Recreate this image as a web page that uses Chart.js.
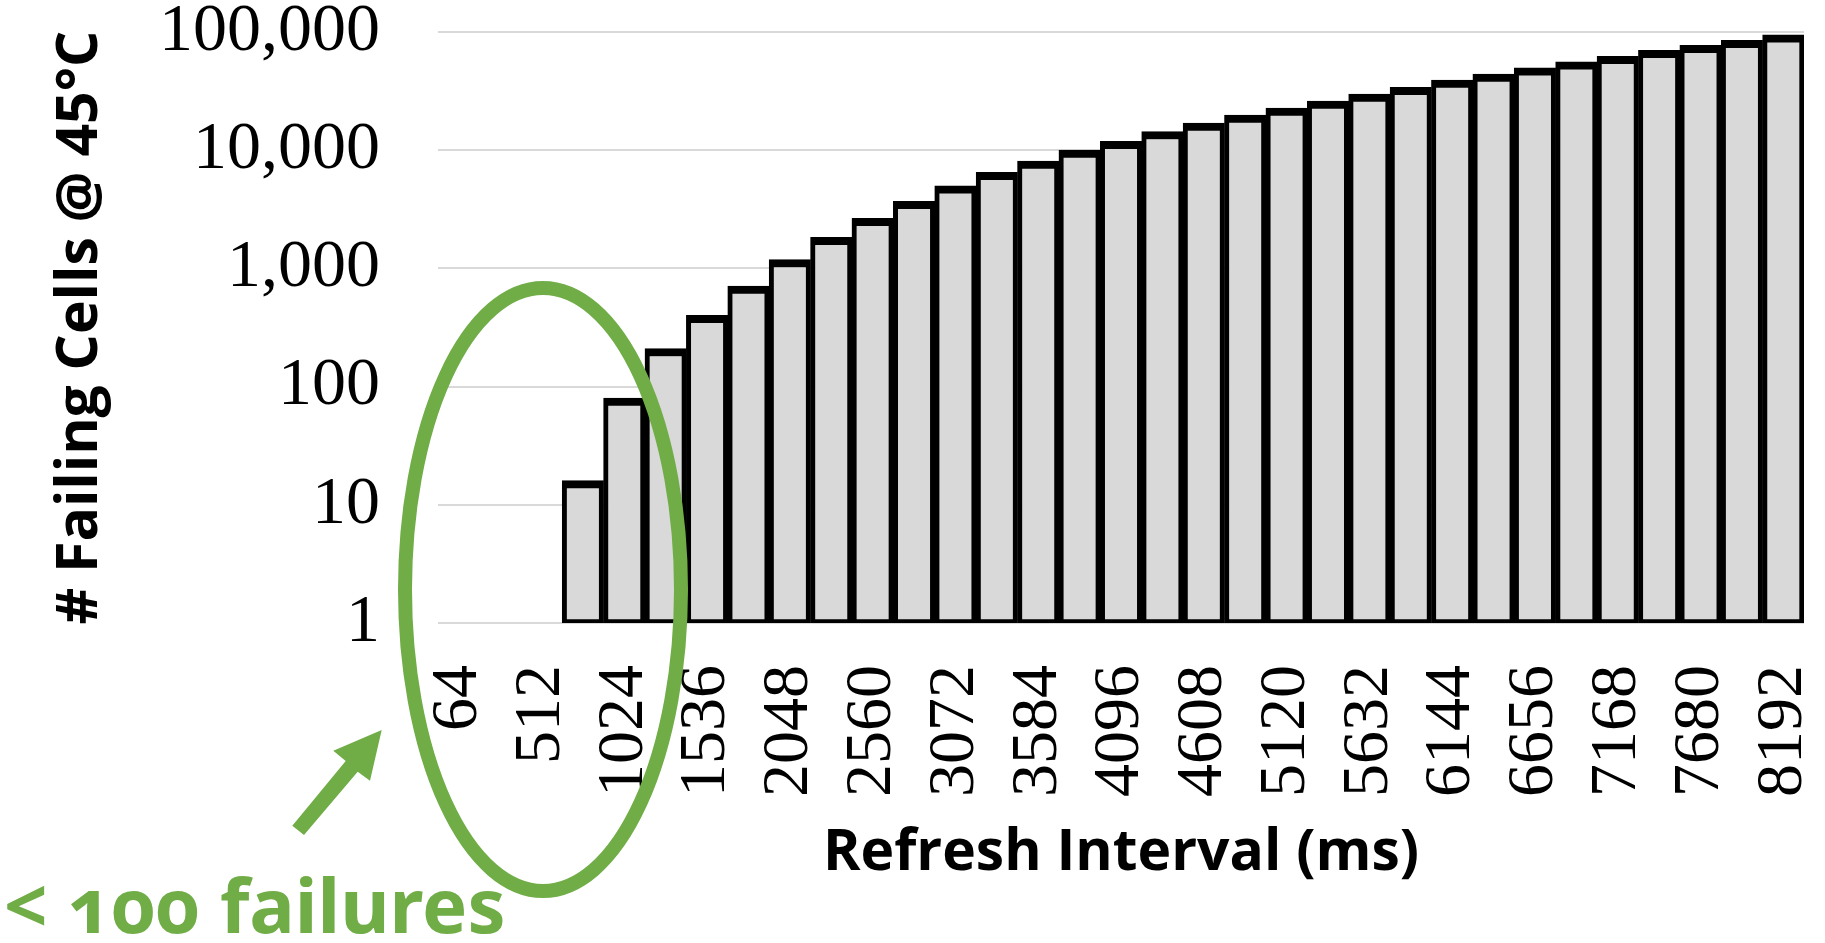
<!DOCTYPE html>
<html>
<head>
<meta charset="utf-8">
<title>Failing cells vs refresh interval</title>
<script src="https://cdn.jsdelivr.net/npm/chart.js@4.4.1/dist/chart.umd.min.js"></script>
<style>
  html, body { margin: 0; padding: 0; background: #fff; }
  #wrap { position: relative; width: 1825px; height: 943px; }
  #note {
    position: absolute; left: 4px; top: 866px;
    font: bold 76px/1 "Noto Sans", sans-serif; color: #70ad47; white-space: nowrap;
    font-feature-settings: "onum" 1; font-variant-numeric: oldstyle-nums;
  }
</style>
</head>
<body>
<div id="wrap">
  <canvas id="chart" width="1825" height="943"></canvas>
  <div id="note">&lt; 100 failures</div>
</div>
<script>
// refresh intervals (ms), one bar each
const refreshIntervals = [
  64, 256, 512, 768, 1024, 1280, 1536, 1792, 2048, 2304, 2560, 2816, 3072,
  3328, 3584, 3840, 4096, 4352, 4608, 4864, 5120, 5376, 5632, 5888, 6144,
  6400, 6656, 6912, 7168, 7424, 7680, 7936, 8192
];

// number of failing cells at 45°C (no failures below 768 ms)
const failingCells = [
  null, null, null, 16, 80, 210, 400, 710, 1190, 1830, 2650, 3700, 5000,
  6500, 8100, 10000, 11900, 14400, 17000, 19800, 22700, 26000, 29800, 34100, 39100,
  44000, 49700, 55800, 62400, 70000, 77000, 85000, 94500
];

const yTicks = [1, 10, 100, 1000, 10000, 100000];

const green = '#70ad47';

// green ellipse + arrow around the "< 100 failures" region
const calloutPlugin = {
  id: 'callout',
  afterDraw(chart) {
    const ctx = chart.ctx;
    ctx.save();
    ctx.strokeStyle = green;
    ctx.lineWidth = 14;
    ctx.beginPath();
    ctx.ellipse(543, 589.5, 138, 301.5, 0, 0, Math.PI * 2);
    ctx.stroke();

    ctx.fillStyle = green;
    ctx.beginPath();
    ctx.moveTo(381.7, 730);
    ctx.lineTo(370, 780.7);
    ctx.lineTo(357.7, 771.7);
    ctx.lineTo(304, 835);
    ctx.lineTo(292.3, 825.7);
    ctx.lineTo(345.7, 761);
    ctx.lineTo(333.3, 750.7);
    ctx.closePath();
    ctx.fill();
    ctx.restore();
  }
};

const ctx = document.getElementById('chart').getContext('2d');

new Chart(ctx, {
  type: 'bar',
  data: {
    labels: refreshIntervals,
    datasets: [{
      data: failingCells,
      backgroundColor: '#d9d9d9',
      borderColor: '#000',
      borderWidth: { top: 8, right: 5, bottom: 4, left: 5 },
      borderSkipped: false,
      barPercentage: 1,
      categoryPercentage: 1,
    }]
  },
  options: {
    responsive: false,
    animation: false,
    layout: { padding: { top: 32, right: 21, bottom: 0, left: 0 } },
    plugins: {
      legend: { display: false },
      tooltip: { enabled: false },
    },
    scales: {
      x: {
        // tick length used as the gap between axis and labels
        grid: { display: false, drawTicks: true, tickLength: 42 },
        border: { display: false },
        ticks: {
          autoSkip: false,
          minRotation: 90,
          maxRotation: 90,
          padding: 0,
          color: '#000',
          font: { family: 'Liberation Serif', size: 66, lineHeight: 0.6 },
          callback: (value, index) => index % 2 === 0 ? String(refreshIntervals[index]) : '',
        },
        title: {
          display: true,
          text: 'Refresh Interval (ms)',
          color: '#000',
          font: { family: 'Open Sans', weight: 'bold', size: 57, lineHeight: 1.2 },
          padding: { top: 0, bottom: 55 },
        },
        afterFit: (scale) => { scale.height = 320; },
      },
      y: {
        type: 'logarithmic',
        min: 1,
        max: 100000,
        afterBuildTicks: (scale) => { scale.ticks = yTicks.map(v => ({ value: v })); },
        grid: { color: '#d9d9d9', lineWidth: 2, drawTicks: true, tickLength: 58, tickColor: 'rgba(0,0,0,0)' },
        border: { display: false },
        ticks: {
          padding: 0,
          color: '#000',
          font: { family: 'Liberation Serif', size: 68, lineHeight: 0.9 },
          callback: (value) => Number(value).toLocaleString('en-US'),
        },
        title: {
          display: true,
          text: '# Failing Cells @ 45°C',
          color: '#000',
          font: { family: 'Open Sans', weight: 'bold', size: 57, lineHeight: 1.2 },
          padding: { top: 47, bottom: 0 },
        },
        afterFit: (scale) => { scale.width = 438; },
      },
    },
  },
  plugins: [calloutPlugin],
});
</script>
</body>
</html>
